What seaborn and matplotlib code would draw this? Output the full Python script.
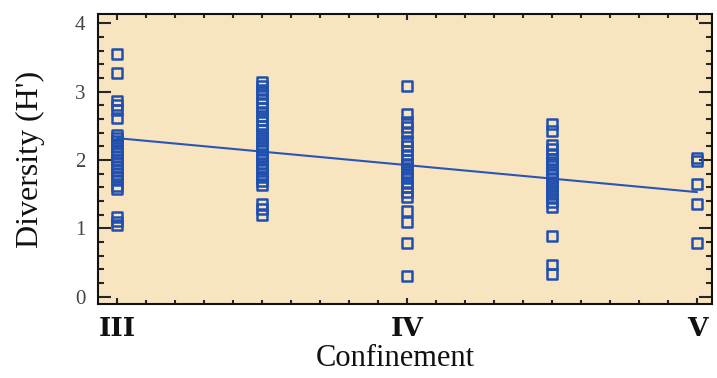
import matplotlib
matplotlib.use("Agg")
import matplotlib.pyplot as plt
from matplotlib.ticker import MultipleLocator, FixedLocator
import seaborn as sns
import pandas as pd

# ---- data ----
conf_positions = [3.0, 3.5, 4.0, 4.5, 5.0]
tick_positions = [3, 4, 5]
tick_labels = ["III", "IV", "V"]

div_III = [3.55, 3.27, 2.87, 2.80, 2.73, 2.62, 2.36, 2.32, 2.28, 2.24, 2.20,
           2.15, 2.10, 2.05, 2.00, 1.95, 1.90, 1.85, 1.80, 1.75, 1.70, 1.62,
           1.57, 1.16, 1.10, 1.05]
div_III_IV = [3.14, 3.08, 3.02, 2.96, 2.90, 2.83, 2.76, 2.70, 2.64, 2.58, 2.50,
              2.44, 2.38, 2.32, 2.27, 2.21, 2.15, 2.09, 2.05, 2.01, 1.95, 1.90,
              1.86, 1.80, 1.75, 1.69, 1.64, 1.36, 1.28, 1.20]
div_IV = [3.08, 2.67, 2.55, 2.48, 2.40, 2.28, 2.21, 2.14, 2.07, 2.00, 1.94,
          1.89, 1.83, 1.78, 1.73, 1.66, 1.60, 1.53, 1.46, 1.25, 1.09, 0.79, 0.30]
div_IV_V = [2.53, 2.43, 2.22, 2.16, 2.09, 2.02, 1.97, 1.92, 1.86, 1.80, 1.74,
            1.68, 1.62, 1.56, 1.50, 1.44, 1.38, 1.31, 0.89, 0.47, 0.33]
div_V = [2.03, 1.98, 1.65, 1.36, 0.79]

fit_x = [3.0, 5.0]
fit_y = [2.32, 1.53]

groups = [div_III, div_III_IV, div_IV, div_IV_V, div_V]
rows = []
for pos, vals in zip(conf_positions, groups):
    for v in vals:
        rows.append({"Confinement": pos, "Diversity": v})
df = pd.DataFrame(rows)
fit_df = pd.DataFrame({"Confinement": fit_x, "Diversity": fit_y})

# ---- style ----
sns.set_style("ticks")
plt.rcParams["font.family"] = ["Liberation Serif", "DejaVu Serif"]

blue = "#1F4FB0"
bg = "#F9E4C0"

fig = plt.figure(figsize=(7.17, 3.78), dpi=100)
ax = fig.add_axes([98 / 717, 1 - 304 / 378, (712 - 98) / 717, (304 - 14) / 378])
ax.set_facecolor(bg)

sns.lineplot(data=fit_df, x="Confinement", y="Diversity", ax=ax,
             color="#2A55B5", linewidth=1.5, zorder=2)
sns.scatterplot(data=df, x="Confinement", y="Diversity", ax=ax,
                marker="s", s=50, facecolor="none", edgecolor=blue,
                linewidth=1.8, zorder=3)

ax.set_xlim(2.9345, 5.0517)
ax.set_ylim(-0.107, 4.136)

ax.xaxis.set_major_locator(FixedLocator(tick_positions))
ax.set_xticklabels(tick_labels, fontfamily="DejaVu Serif", fontweight="bold",
                   fontsize=19)
ax.xaxis.set_minor_locator(MultipleLocator(0.1))
ax.yaxis.set_major_locator(MultipleLocator(1))
ax.yaxis.set_minor_locator(MultipleLocator(0.2))

for s in ax.spines.values():
    s.set_linewidth(1.5)
    s.set_color("#111111")

ax.tick_params(axis="y", which="major", direction="in", length=9.5, width=1.5,
               left=True, right=True, labelsize=15, labelcolor="#444444", pad=9)
ax.tick_params(axis="y", which="minor", direction="in", length=4.5, width=1.5,
               left=True, right=True)
ax.tick_params(axis="x", which="major", direction="in", length=4.5, width=1.5,
               bottom=True, top=True, pad=9, labelcolor="#111111")
ax.tick_params(axis="x", which="minor", direction="in", length=2.6, width=1.5,
               bottom=True, top=True)

ax.set_xlabel("Confinement", fontsize=22, color="#111111")
ax.set_ylabel("Diversity (H')", fontsize=23, color="#111111")
ax.xaxis.set_label_coords((395 - 98) / 614, (304 - 344) / 290)
ax.yaxis.set_label_coords((45 - 98) / 614, 0.5)

fig.savefig("out.png", dpi=100, facecolor="white")
